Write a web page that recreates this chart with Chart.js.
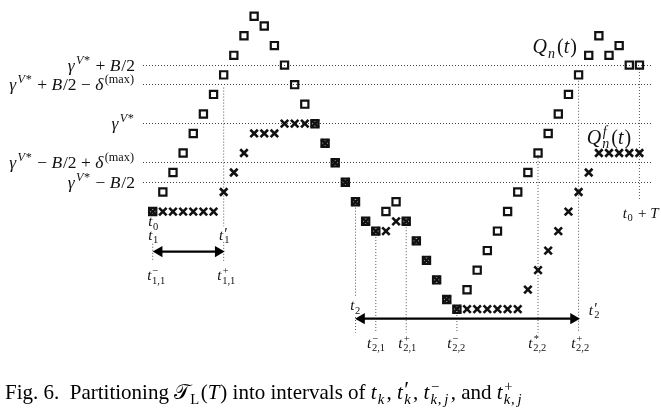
<!DOCTYPE html>
<html lang="en">
  <head>
    <meta charset="UTF-8" />
    <script src="https://cdn.jsdelivr.net/npm/chart.js@4.4.1/dist/chart.umd.min.js"></script>
    <title>Fig. 6</title>
    <style>
      html,
      body {
        margin: 0;
        padding: 0;
        background-color: rgb(255, 255, 255);
      }

      canvas {
        display: block;
      }
    </style>
  </head>
  <body>
    <canvas id="myChart" width="661" height="416"></canvas>
    <script>
      // time steps (one slot each) and the two queues
      const slots = [];
      for (let k = 0; k <= 48; k++) slots.push(k);
      const qn = [0, 2, 4, 6, 8, 10, 12, 14, 16, 18, 20, 19, 17, 15, 13, 11, 9, 7, 5, 3,
        1, -1, -2, 0, 1, -1, -3, -5, -7, -9, -10, -8, -6, -4, -2, 0, 2, 4, 6, 8,
        10, 12, 14, 16, 18, 16, 17, 15, 15];
      const qf = [0, 0, 0, 0, 0, 0, 0, 2, 4, 6, 8, 8, 8, 9, 9, 9, 9, 7, 5, 3,
        1, -1, -2, -2, -1, -1, -3, -5, -7, -9, -10, -10, -10, -10, -10, -10, -10, -8, -6, -4,
        -2, 0, 2, 4, 6, 6, 6, 6, 6];

      // threshold levels (gamma = 9, B = 12, delta = 2)
      const levelValues = [15, 13, 9, 5, 3];
      const levelLabels = [
        "γ^{V*} + B/2",
        "γ^{V*} + B/2 − δ^{([max])}",
        "γ^{V*}",
        "γ^{V*} − B/2 + δ^{([max])}",
        "γ^{V*} − B/2",
      ];

      // dotted guides: [slot, from, to]
      const guides = [
        [0, -3.3, -5.05],
        [7, 12.7, -1.5],
        [7, -3.1, -5.05],
        [20, 0.4, -8.7],
        [20, -10.8, -12.4],
        [22, -2.6, -12.4],
        [25, -1.6, -12.4],
        [30, -10.6, -12.4],
        [38, 5.8, -12.4],
        [42, 13.4, -12.4],
        [48, 14.6, 1.1],
      ];

      // double arrows: [from, to, level]
      const arrows = [
        [0.64, 6.46, -4.1],
        [20.6, 41.5, -10.97],
      ];

      // annotations: [text, slot, level, align, size]
      const notes = [
        ["t_{0}", 0.13, -1.51, "center", 15],
        ["t_{1}", 0.13, -2.89, "center", 15],
        ["t′_{1}", 7.13, -2.89, "center", 15],
        ["t^{−}_{1,1}", 0.42, -7.02, "center", 15],
        ["t^{+}_{1,1}", 7.33, -7.02, "center", 15],
        ["t_{2}", 20.05, -10.08, "center", 15],
        ["t′_{2}", 43.0, -10.57, "left", 15],
        ["t^{−}_{2,1}", 22.1, -13.96, "center", 15],
        ["t^{+}_{2,1}", 25.18, -13.96, "center", 15],
        ["t^{−}_{2,2}", 30.01, -13.96, "center", 15],
        ["t^{*}_{2,2}", 38.0, -13.96, "center", 15],
        ["t^{+}_{2,2}", 42.23, -13.96, "center", 15],
        ["t_{0} + T", 48.16, -0.62, "center", 15],
        ["Q_{n}(t)", 37.45, 16.23, "left", 20],
        ["Q^{f}_{n}(t)", 42.8, 6.97, "left", 20],
      ];

      const caption = "Fig. 6.  Partitioning 𝒯_{[L]}(T) into intervals of t_{k}, t′_{k}, t^{−}_{k,\u2009j}, and t^{+}_{k,\u2009j}";

      // --------------------------------------------------------------------
      // tiny math text: ^{..} and _{..}, single letters in italic, [..] upright

      function parseMath(s) {
        const items = [];
        let i = 0, run = "";
        const flush = () => { if (run) { items.push({ t: run }); run = ""; } };
        while (i < s.length) {
          const c = s[i];
          if (c === "^" || c === "_") {
            flush();
            i++;
            let g;
            if (s[i] === "{") { const j = s.indexOf("}", i); g = s.slice(i + 1, j); i = j + 1; }
            else { g = s[i]; i++; }
            const slot = c === "^" ? "sup" : "sub";
            let last = items[items.length - 1];
            if (!last || last.t !== undefined || last[slot] !== undefined) { last = {}; items.push(last); }
            last[slot] = g;
          } else {
            run += c;
            i++;
          }
        }
        flush();
        return items;
      }

      function drawRun(ctx, text, x, y, size, dry) {
        let w = 0;
        (text.match(/\[[^\]]*\]|[A-Za-zγδ]+|[^A-Za-zγδ\[]+/g) || []).forEach(tok => {
          let it = /^[A-Za-zγδ]$/.test(tok);
          if (tok[0] === "[") { tok = tok.slice(1, -1); it = false; }
          ctx.font = (it ? "italic " : "") + size + 'px "Liberation Serif"';
          if (!dry) ctx.fillText(tok, x + w, y);
          w += ctx.measureText(tok).width + (it ? size * 0.05 : 0);
        });
        return w;
      }

      function drawMath(ctx, s, x, y, size, align) {
        const items = parseMath(s);
        const small = size * 0.7;
        const layout = (px, draw) => {
          let w = 0;
          items.forEach(it => {
            if (it.t !== undefined) {
              // a prime is drawn full size; the following subscript tucks under it
              const parts = it.t.split("′");
              parts.forEach((p, k) => {
                if (p) w += drawRun(ctx, p, px + w, y, size, !draw);
                if (k < parts.length - 1) {
                  ctx.font = size * 1.05 + 'px "Liberation Serif"';
                  if (draw) ctx.fillText("′", px + w + 0.5, y - size * 0.08);
                  w += 0.5;
                }
              });
            } else {
              let a = 0, b = 0;
              if (it.sup !== undefined) a = drawRun(ctx, it.sup, px + w + 0.5, y - size * 0.4, small, !draw);
              if (it.sub !== undefined) b = drawRun(ctx, it.sub, px + w, y + size * 0.24, small, !draw);
              w += Math.max(a, b) + 1.5;
            }
          });
          return w;
        };
        const width = layout(x, false);
        let start = x;
        if (align === "center") start = x - width / 2;
        if (align === "right") start = x - width;
        layout(start, true);
        return width;
      }

      // --------------------------------------------------------------------

      const textPlugin = {
        id: "figText",
        afterDatasetsDraw(chart) {
          const ctx = chart.ctx;
          const xs = chart.scales.x, ys = chart.scales.y;
          ctx.save();
          ctx.fillStyle = "#111";
          ctx.textBaseline = "alphabetic";
          levelValues.forEach((v, k) => {
            drawMath(ctx, levelLabels[k], xs.getPixelForValue(-1.75), ys.getPixelForValue(v) + 5.5, 17.5, "right");
          });
          notes.forEach(n => {
            drawMath(ctx, n[0], xs.getPixelForValue(n[1]), ys.getPixelForValue(n[2]), n[4], n[3]);
          });
          ctx.fillStyle = "#000";
          drawMath(ctx, caption, 5, 399, 21, "left");
          ctx.restore();
        },
      };

      const datasets = [
        {
          label: "Qf",
          data: slots.map((t, k) => ({ x: t, y: qf[k] })),
          pointStyle: "crossRot",
          pointRadius: 5.3,
          borderWidth: 2.6,
          borderColor: "#111",
          clip: false,
        },
        {
          label: "Q",
          data: slots.map((t, k) => ({ x: t, y: qn[k] })),
          pointStyle: "rect",
          pointRadius: 5.1,
          borderWidth: 2.2,
          borderColor: "#111",
          backgroundColor: "rgba(0,0,0,0)",
          clip: false,
        },
      ];

      arrows.forEach(a => {
        datasets.push({
          type: "line",
          data: [{ x: a[0], y: a[2] }, { x: a[1], y: a[2] }],
          borderColor: "#000",
          borderWidth: 2.2,
          pointStyle: "triangle",
          pointRotation: [-90, 90],
          pointRadius: 6.5,
          pointBorderWidth: 0,
          pointBackgroundColor: "#000",
          clip: false,
        });
      });

      guides.forEach(g => {
        datasets.push({
          type: "line",
          data: [{ x: g[0], y: g[1] }, { x: g[0], y: g[2] }],
          borderColor: "#555",
          borderWidth: 1,
          borderDash: [1, 2],
          pointRadius: 0,
          clip: false,
        });
      });

      const ctx = document.getElementById("myChart").getContext("2d");
      const myChart = new Chart(ctx, {
        type: "scatter",
        data: { datasets: datasets },
        options: {
          responsive: false,
          animation: false,
          devicePixelRatio: 1,
          layout: { padding: { left: 143, right: 9, top: 0, bottom: 0 } },
          plugins: { legend: { display: false }, tooltip: { enabled: false } },
          scales: {
            x: { type: "linear", display: false, min: -0.957, max: 49.24 },
            y: {
              type: "linear",
              min: -20.13,
              max: 20.86,
              afterFit: s => { s.width = 0; },
              afterBuildTicks: s => { s.ticks = levelValues.map(v => ({ value: v })); },
              ticks: { display: false },
              grid: { color: "#444", lineWidth: 1, drawTicks: false },
              border: { display: false, dash: [1, 2] },
            },
          },
        },
        plugins: [textPlugin],
      });
    </script>
  </body>
</html>
